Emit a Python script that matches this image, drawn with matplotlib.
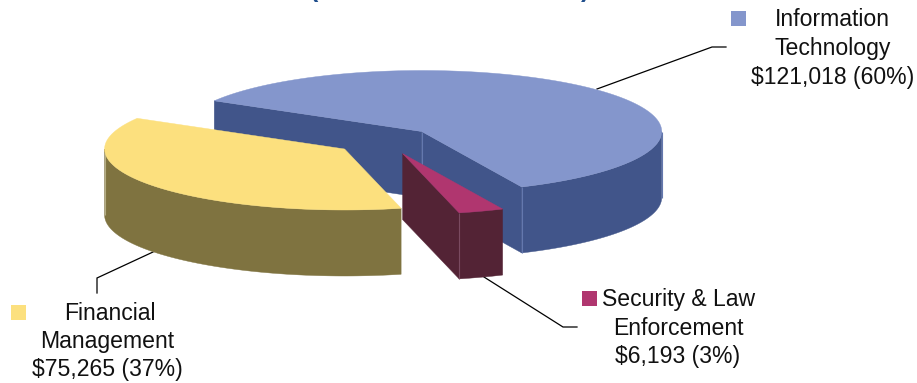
import numpy as np
import matplotlib
matplotlib.use("Agg")
import matplotlib.pyplot as plt
from matplotlib.patches import Polygon, Rectangle

# Spending by category, in thousands of dollars
categories = ["Information Technology", "Security & Law Enforcement", "Financial Management"]
amounts = [121018, 6193, 75265]
label_lines = [["Information", "Technology"], ["Security & Law", "Enforcement"], ["Financial", "Management"]]
top_colors = ["#8496CC", "#B0366F", "#FCE07E"]
side_colors = ["#41558A", "#532335", "#7F7340"]
seam_colors = ["#6478AE", "#7A4A60", "#B5AD84"]

W, H = 917, 383
RX, RY, DEPTH = 240.0, 61.0, 66.0
START_DEG = 149.8
apexes = [(421.7, 131.5), (402.6, 153.6), (344.6, 149.0)]

plt.rcParams["font.family"] = ["Liberation Sans", "DejaVu Sans"]
fig = plt.figure(figsize=(W / 100, H / 100), dpi=100)
ax = fig.add_axes([0, 0, 1, 1])
ax.set_xlim(0, W)
ax.set_ylim(H, 0)
ax.axis("off")


def rim(apex, t0, t1, drop=0.0, n=160):
    """Points on the elliptical rim between two angles, in degrees."""
    t = np.radians(np.linspace(t0, t1, n))
    return np.column_stack([apex[0] + RX * np.cos(t), apex[1] - RY * np.sin(t) + drop])


def extrude(path):
    """Closed outline of a wall hanging below a path on the top face."""
    return np.vstack([path, path[::-1] + [0, DEPTH]])


def seam(x, y, color, z):
    ax.plot([x, x], [y, y + DEPTH], color=color, lw=0.8, zorder=z, solid_capstyle="butt")


# Slice angles run clockwise from the start angle
total = sum(amounts)
sweeps = [360.0 * v / total for v in amounts]
edges = START_DEG - np.concatenate([[0], np.cumsum(sweeps)])

for i, (apex, top, side, sc) in enumerate(zip(apexes, top_colors, side_colors, seam_colors)):
    t0, t1 = edges[i], edges[i + 1]
    z = 2 + i * 3
    arc = rim(apex, t0, t1)
    a = np.array(apex)

    if i == 0:
        # Large slice: both cut faces and the front of the rim show
        walls = [np.array([arc[0], a]), np.array([a, arc[-1]]), rim(apex, 0, t1)]
        seams = [apex, tuple(arc[-1]), (apex[0] + RX, apex[1])]
    elif i == 1:
        # Pulled-out slice: left cut face and short outer wall show
        walls = [np.array([a, arc[-1]]), arc]
        seams = [tuple(arc[-1])]
    else:
        # Left slice: only the curved wall shows
        walls = [rim(apex, t0, -180)]
        seams = [(apex[0] - RX, apex[1])]

    for path in walls:
        ax.add_patch(Polygon(extrude(path), closed=True, fc=side, ec=side, lw=0.3, zorder=z))
    for sx, sy in seams:
        seam(sx, sy, sc, z + 1)
    ax.add_patch(Polygon(np.vstack([a, arc]), closed=True, fc=top, ec=top, lw=0.3, zorder=z + 2))

# Leader lines from the slices to their labels
leaders = [
    ([597, 712, 726], [89, 47, 47]),
    ([484, 563, 577], [277, 327, 327]),
    ([153, 97, 97], [252, 278, 293]),
]
for xs, ys in leaders:
    ax.plot(xs, ys, color="black", lw=0.9, zorder=1, solid_joinstyle="miter")

# Labels: two name lines, then the amount and share
FS = 16.55
label_x = [[832, 832.5, 832.5], [679, 678, 678], [110, 107, 107]]
label_y = [[26, 55, 84], [306, 335, 363], [320, 348, 376]]
keys = [(731, 11), (582, 291), (11, 305)]
for i, v in enumerate(amounts):
    lines = label_lines[i] + [f"${v:,} ({round(100 * v / total)}%)"]
    for s, x, y in zip(lines, label_x[i], label_y[i]):
        ax.text(x, y, s, fontsize=FS, color="#111111", ha="center", va="baseline", zorder=20)
    kx, ky = keys[i]
    ax.add_patch(Rectangle((kx, ky), 15, 15, fc=top_colors[i], ec="none", zorder=20))

# Brackets of the heading that runs off the top edge
for x, s in [(314, "("), (585, ")")]:
    ax.text(x, -3.5, s, fontsize=18, fontweight="bold", color="#1F4E8C",
            ha="center", va="baseline", zorder=20)

fig.savefig("out.png", dpi=100, facecolor="white")
